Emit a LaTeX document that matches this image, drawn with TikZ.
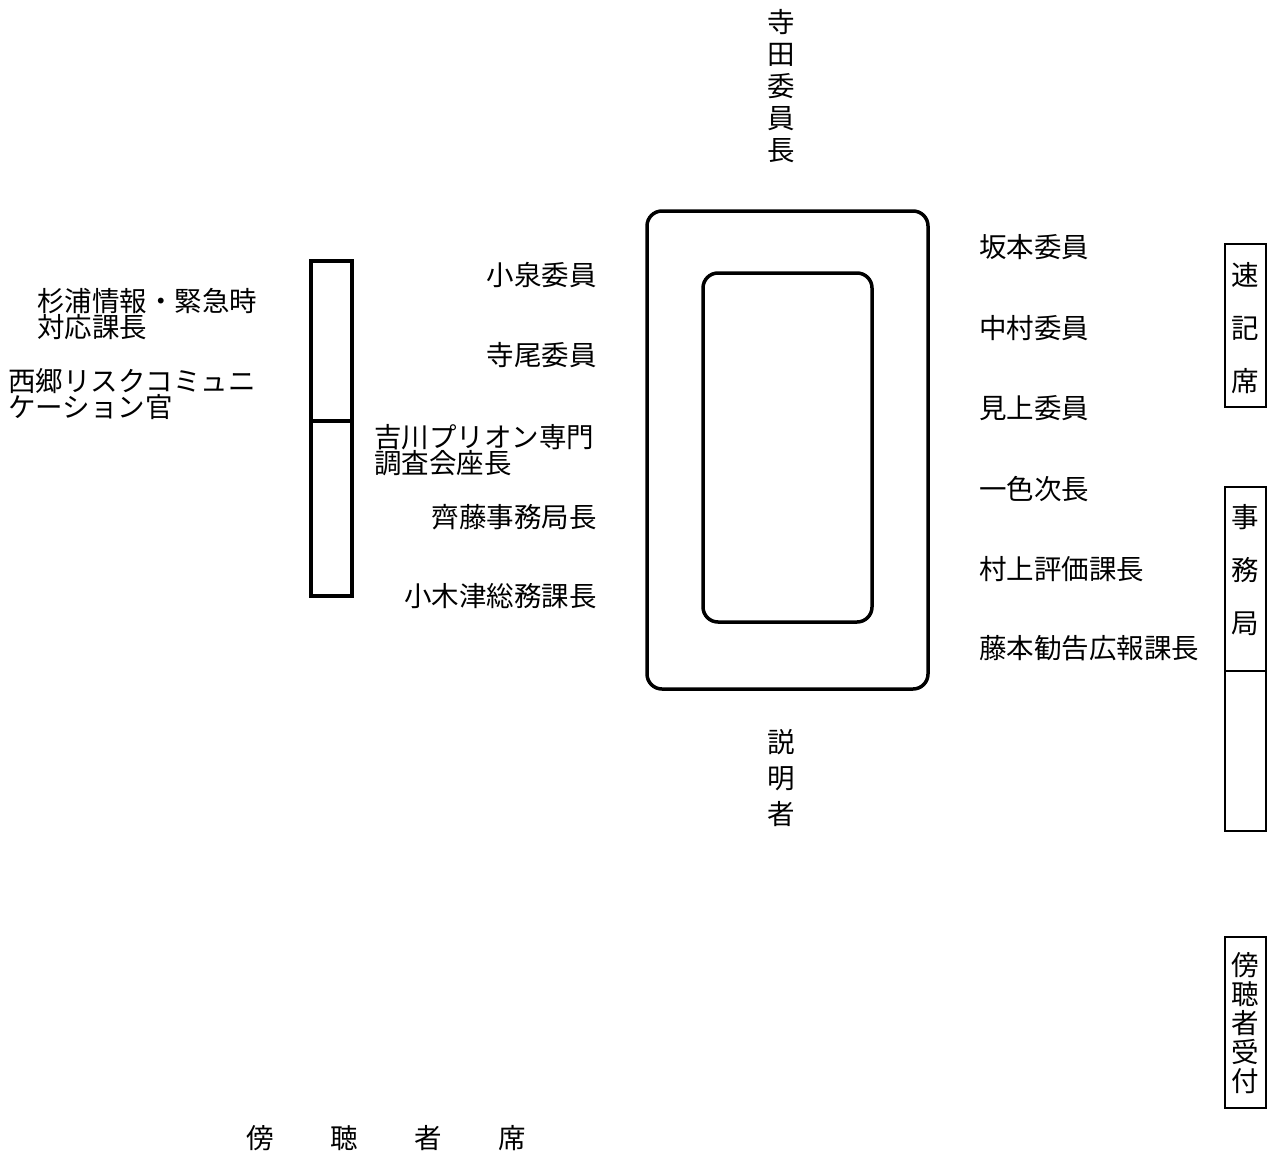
\documentclass[tikz,border=0pt]{standalone}
\usepackage{fontspec}
\setmainfont{Noto Sans CJK JP}
\tikzset{
  tbl/.style={draw, line width=3.5pt, rounded corners=15pt},
  seat/.style={draw, line width=3.5pt},
  desk/.style={draw, line width=1.5pt},
  lbl/.style={inner sep=0pt, font=\fontsize{27.5}{26}\selectfont},
}
\begin{document}
\begin{tikzpicture}[x=1pt,y=-1pt]
\useasboundingbox (0,0) rectangle (1271,1154);
% table
\draw[tbl] (647,211) rectangle (928,689);
\draw[tbl] (703,273) rectangle (872,622);
% seats on the left
\draw[seat] (311,261) rectangle (352,596);
\draw[seat] (311,421) -- (352,421);
% desks on the right
\draw[desk] (1225,244) rectangle (1266,407);
\draw[desk] (1225,487) rectangle (1266,831);
\draw[desk] (1225,671) -- (1266,671);
\draw[desk] (1225,937) rectangle (1266,1108);
% chairman and speaker
\node[lbl, align=center, anchor=base, font=\fontsize{27.5}{32}\selectfont] (chair) at (781,160) {寺\\田\\委\\員\\長};
\node[lbl, align=center, anchor=base, font=\fontsize{27.5}{36}\selectfont] (speaker) at (781,824) {説\\明\\者};
% left side
\node[lbl, anchor=base east] (koizumi) at (597,285) {小泉委員};
\node[lbl, anchor=base east] (terao) at (597,365) {寺尾委員};
\node[lbl, anchor=base west, align=left] (yoshikawa) at (374,473) {吉川プリオン専門\\調査会座長};
\node[lbl, anchor=base east] (saito) at (597,527) {齊藤事務局長};
\node[lbl, anchor=base east] (okitsu) at (597,606) {小木津総務課長};
% right side
\node[lbl, anchor=base west] (sakamoto) at (979,257) {坂本委員};
\node[lbl, anchor=base west] (nakamura) at (979,338) {中村委員};
\node[lbl, anchor=base west] (mikami) at (979,418) {見上委員};
\node[lbl, anchor=base west] (isshiki) at (979,499) {一色次長};
\node[lbl, anchor=base west] (murakami) at (979,579) {村上評価課長};
\node[lbl, anchor=base west] (fujimoto) at (979,658) {藤本勧告広報課長};
% far left
\node[lbl, anchor=base west, align=left] (sugiura) at (37,337) {杉浦情報・緊急時\\対応課長};
\node[lbl, anchor=base west, align=left] (saigo) at (8,417) {西郷リスクコミュニ\\ケーション官};
% desks texts
\node[lbl, align=center, anchor=base, font=\fontsize{27.5}{53}\selectfont] (sokki) at (1245,391) {速\\記\\席};
\node[lbl, align=center, anchor=base, font=\fontsize{27.5}{53}\selectfont] (jimu) at (1245,633) {事\\務\\局};
\node[lbl, align=center, anchor=base, font=\fontsize{27.5}{29}\selectfont] (uketsuke) at (1245,1091) {傍\\聴\\者\\受\\付};
% gallery
\node[lbl, anchor=base west] (boucho) at (246,1148) {傍\hspace{56.5pt}聴\hspace{56.5pt}者\hspace{56.5pt}席};
\end{tikzpicture}
\end{document}
